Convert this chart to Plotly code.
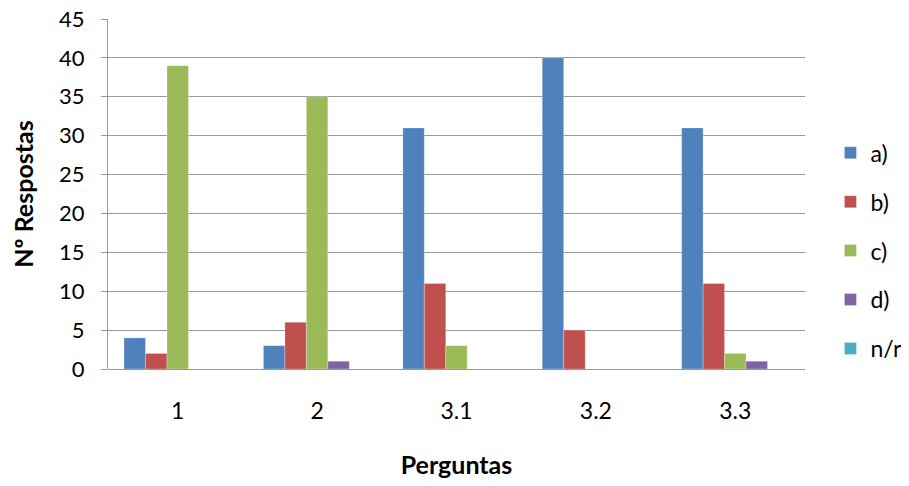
import plotly.graph_objects as go

categories = ["1", "2", "3.1", "3.2", "3.3"]
series_names = ["a)", "b)", "c)", "d)", "n/r"]
values_a = [4, 3, 31, 40, 31]
values_b = [2, 6, 11, 5, 11]
values_c = [39, 35, 3, 0, 2]
values_d = [0, 1, 0, 0, 1]
values_nr = [0, 0, 0, 0, 0]
colors = ["#4F81BD", "#C0504D", "#9BBB59", "#8064A2", "#4BACC6"]
y_ticks = [0, 5, 10, 15, 20, 25, 30, 35, 40, 45]

FONT = "Lato, sans-serif"
FS = 23
FT = 25

fig = go.Figure()
for name, vals, col in zip(series_names, [values_a, values_b, values_c, values_d, values_nr], colors):
    fig.add_trace(go.Bar(
        x=categories, y=vals, name=name, legendgroup=name,
        marker=dict(color=col, line=dict(color="rgba(255,255,255,0.35)", width=0.8)),
    ))

fig.update_layout(
    width=909, height=486,
    margin=dict(l=100, r=111, t=11, b=125),
    plot_bgcolor="white", paper_bgcolor="white",
    barmode="group", bargap=0.23, bargroupgap=0,
    font=dict(family=FONT, size=FS, color="#000000"),
    showlegend=True,
    legend=dict(x=1.035, y=0.679, xanchor="left", yanchor="top",
                font=dict(family=FONT, size=FS), tracegroupgap=16,
                itemwidth=30, bgcolor="rgba(0,0,0,0)", borderwidth=0),
    xaxis=dict(
        type="category", showgrid=False, showline=False, ticks="", automargin=False,
        ticklabelstandoff=26, tickfont=dict(family=FONT, size=FS),
        title=dict(text="<b>Perguntas</b>", font=dict(family=FONT, size=FT), standoff=33),
    ),
    yaxis=dict(
        range=[0, 45.0001], tickvals=y_ticks, showgrid=True, gridcolor="#999999", gridwidth=1,
        showline=True, linecolor="#999999", linewidth=1, ticks="outside", ticklen=6,
        tickcolor="#999999", ticklabelstandoff=12, ticklabeloverflow="allow",
        tickfont=dict(family=FONT, size=22),
        zeroline=True, zerolinecolor="#999999", zerolinewidth=1, automargin=False,
        title=dict(text="<b>Nº Respostas</b>", font=dict(family=FONT, size=FT), standoff=18),
    ),
)

fig.write_html("out.html")
